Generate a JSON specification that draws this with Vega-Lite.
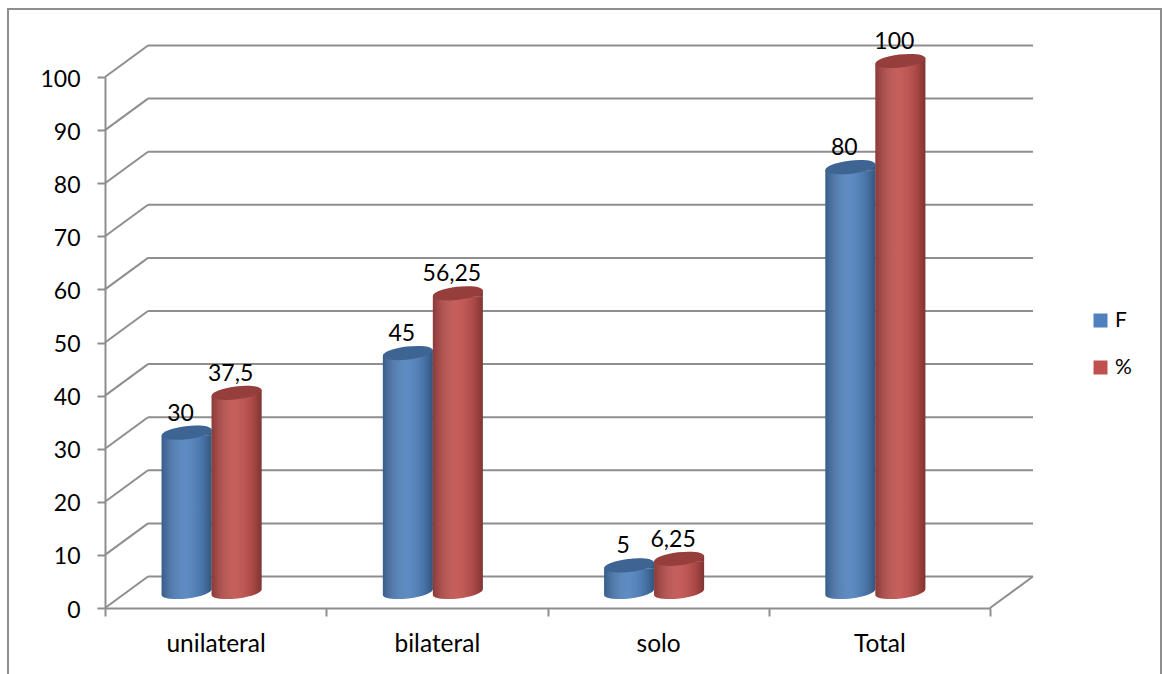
{
  "$schema": "https://vega.github.io/schema/vega-lite/v6.json",
  "autosize": {"type": "none"},
  "padding": {"left": 105, "top": 77, "right": 172, "bottom": 66},
  "width": 885,
  "height": 531,
  "background": "white",
  "config": {"view": {"stroke": null}, "font": "Lato"},
  "datasets": {
    "cylinders": [
      {"category": "unilateral", "series": "F", "value": 30, "label": "30"},
      {"category": "unilateral", "series": "%", "value": 37.5, "label": "37,5"},
      {"category": "bilateral", "series": "F", "value": 45, "label": "45"},
      {"category": "bilateral", "series": "%", "value": 56.25, "label": "56,25"},
      {"category": "solo", "series": "F", "value": 5, "label": "5"},
      {"category": "solo", "series": "%", "value": 6.25, "label": "6,25"},
      {"category": "Total", "series": "F", "value": 80, "label": "80"},
      {"category": "Total", "series": "%", "value": 100, "label": "100"}
    ],
    "levels": [
      {"level": 0}, {"level": 10}, {"level": 20}, {"level": 30}, {"level": 40}, {"level": 50},
      {"level": 60}, {"level": 70}, {"level": 80}, {"level": 90}, {"level": 100}
    ]
  },
  "encoding": {
    "y": {
      "field": "value",
      "type": "quantitative",
      "scale": {"domain": [0, 100], "nice": false},
      "axis": {
        "title": null,
        "values": [0, 10, 20, 30, 40, 50, 60, 70, 80, 90, 100],
        "grid": false,
        "domainColor": "#8E8E8E",
        "domainWidth": 2,
        "tickColor": "#8E8E8E",
        "tickWidth": 2,
        "tickSize": 8,
        "labelFontSize": 23,
        "labelColor": "#000000",
        "labelPadding": 17,
        "labelOffset": 2
      }
    }
  },
  "layer": [
    {
      "description": "Outer chart frame",
      "data": {"values": [{}]},
      "mark": {"type": "rect", "fill": null, "stroke": "#8E8E8E", "strokeWidth": 2},
      "encoding": {
        "y": {"value": -68},
        "y2": {"value": 640},
        "x": {"value": -97},
        "x2": {"value": 1056}
      }
    },
    {
      "description": "Back wall gridlines",
      "data": {"name": "levels"},
      "mark": {"type": "rule", "color": "#8E8E8E", "strokeWidth": 2, "yOffset": -31.5},
      "encoding": {
        "y": {"field": "level", "type": "quantitative"},
        "x": {"value": 43},
        "x2": {"value": 928}
      }
    },
    {
      "description": "Side wall slants",
      "data": {"name": "levels"},
      "mark": {"type": "rule", "color": "#8E8E8E", "strokeWidth": 2, "y2Offset": -31.5},
      "encoding": {
        "y": {"field": "level", "type": "quantitative"},
        "y2": {"field": "level"},
        "x": {"value": 0},
        "x2": {"value": 43}
      }
    },
    {
      "description": "Floor edge on the right",
      "data": {"values": [{"level": 0}]},
      "mark": {"type": "rule", "color": "#8E8E8E", "strokeWidth": 2, "y2Offset": -31.5},
      "encoding": {
        "y": {"field": "level", "type": "quantitative"},
        "y2": {"field": "level"},
        "x": {"value": 885},
        "x2": {"value": 928}
      }
    },
    {
      "data": {"name": "cylinders"},
      "encoding": {
        "x": {
          "field": "category",
          "type": "nominal",
          "sort": null,
          "scale": {"domain": ["unilateral", "bilateral", "solo", "Total"], "paddingInner": 0, "paddingOuter": 0},
          "axis": {
            "title": null,
            "labelAngle": 0,
            "tickBand": "extent",
            "domainColor": "#8E8E8E",
            "domainWidth": 2,
            "tickColor": "#8E8E8E",
            "tickWidth": 2,
            "tickSize": 8,
            "labelFontSize": 24.5,
            "labelColor": "#000000",
            "labelPadding": 16
          }
        },
        "xOffset": {
          "field": "series",
          "type": "nominal",
          "scale": {"type": "band", "domain": ["F", "%"], "range": [56.6, 156.6], "paddingInner": 0, "paddingOuter": 0}
        },
        "color": {
          "field": "series",
          "type": "nominal",
          "scale": {"domain": ["F", "%"], "range": ["#4F81BD", "#C0504D"]},
          "legend": {
            "title": null,
            "orient": "none",
            "legendX": 985,
            "legendY": 233,
            "symbolType": "square",
            "symbolSize": 196,
            "symbolStrokeWidth": 0,
            "labelFontSize": 21,
            "labelColor": "#000000",
            "labelOffset": 4,
            "rowPadding": 25
          }
        }
      },
      "layer": [
        {
          "mark": {
            "type": "point", "filled": true, "opacity": 1, "size": 2500, "yOffset": -16,
            "shape": "M1,-0.12 A1.007,0.26 -6.8 0 1 -1,0.12 L-1,-0.12 Z"
          },
          "encoding": {"y": {"datum": 0, "type": "quantitative"}}
        },
        {
          "mark": {"type": "bar", "yOffset": -13, "y2Offset": -19},
          "encoding": {"y2": {"datum": 0}}
        },
        {
          "mark": {
            "type": "point", "filled": true, "opacity": 1, "size": 2500, "yOffset": -16,
            "shape": "M-1,0.12 L1,-0.12 L1,0.12 Z"
          }
        },
        {
          "mark": {
            "type": "bar", "yOffset": -13, "y2Offset": -19,
            "fill": {
              "gradient": "linear", "x1": 0, "x2": 1, "y1": 0, "y2": 0,
              "stops": [
                {"offset": 0, "color": "rgba(0,0,0,0.28)"},
                {"offset": 0.5, "color": "rgba(255,255,255,0.08)"},
                {"offset": 0.85, "color": "rgba(0,0,0,0.14)"},
                {"offset": 1, "color": "rgba(0,0,0,0.34)"}
              ]
            }
          },
          "encoding": {"color": {"value": null}, "y2": {"datum": 0}}
        },
        {
          "mark": {
            "type": "point", "filled": true, "opacity": 1, "size": 2500, "yOffset": -16,
            "shape": "M1,-0.12 A1.007,0.26 -6.8 0 1 -1,0.12 L-1,-0.12 Z",
            "fill": {
              "gradient": "linear", "x1": 0, "x2": 1, "y1": 0, "y2": 0,
              "stops": [
                {"offset": 0, "color": "rgba(0,0,0,0.28)"},
                {"offset": 0.5, "color": "rgba(255,255,255,0.08)"},
                {"offset": 0.85, "color": "rgba(0,0,0,0.14)"},
                {"offset": 1, "color": "rgba(0,0,0,0.34)"}
              ]
            }
          },
          "encoding": {"color": {"value": null}, "y": {"datum": 0, "type": "quantitative"}}
        },
        {
          "mark": {
            "type": "point", "filled": true, "opacity": 1, "size": 2500, "yOffset": -16,
            "shape": "M-1,0.12 L1,-0.12 L1,0.12 Z",
            "fill": {
              "gradient": "linear", "x1": 0, "x2": 1, "y1": 0, "y2": 0,
              "stops": [
                {"offset": 0, "color": "rgba(0,0,0,0.28)"},
                {"offset": 0.5, "color": "rgba(255,255,255,0.08)"},
                {"offset": 0.85, "color": "rgba(0,0,0,0.14)"},
                {"offset": 1, "color": "rgba(0,0,0,0.34)"}
              ]
            }
          },
          "encoding": {"color": {"value": null}}
        },
        {
          "mark": {
            "type": "point", "filled": true, "opacity": 1, "size": 2500, "yOffset": -16,
            "shape": "M-1,0.12 A1.007,0.26 -6.8 1 1 1,-0.12 A1.007,0.26 -6.8 1 1 -1,0.12 Z"
          }
        },
        {
          "mark": {
            "type": "point", "filled": true, "size": 2500, "yOffset": -16,
            "shape": "M-1,0.12 A1.007,0.26 -6.8 1 1 1,-0.12 A1.007,0.26 -6.8 1 1 -1,0.12 Z",
            "fill": "#000000", "opacity": 0.22
          },
          "encoding": {"color": {"value": null}}
        },
        {
          "mark": {"type": "text", "fontSize": 23, "dx": -6, "dy": -35, "baseline": "middle"},
          "encoding": {
            "text": {"field": "label"},
            "color": {"value": "#000000"}
          }
        }
      ]
    }
  ]
}
